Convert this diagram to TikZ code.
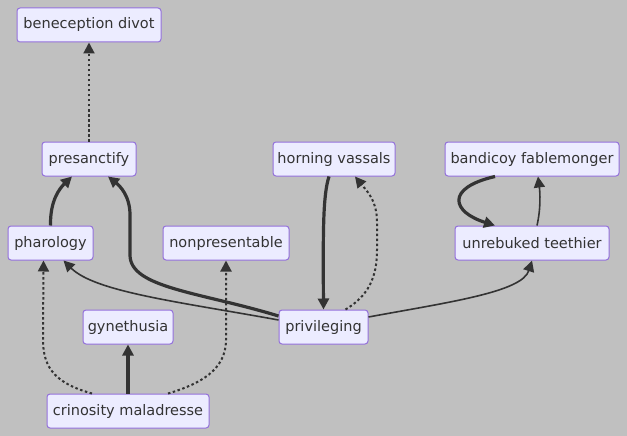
\documentclass[tikz,border=0pt]{standalone}
\usepackage{fontspec}
\setmainfont{DejaVu Sans}
\usetikzlibrary{arrows.meta}
\definecolor{bgc}{HTML}{C0C0C0}
\definecolor{nfill}{HTML}{ECECFF}
\definecolor{nbord}{HTML}{9370DB}
\definecolor{ecol}{HTML}{333333}
\tikzset{
  nd/.style={draw=nbord, fill=nfill, line width=1pt, rounded corners=3pt,
    minimum height=34pt, inner sep=0pt, text=ecol,
    font=\fontsize{14.5}{17}\selectfont},
  tip/.style={-{Triangle[length=11pt 0,width=11pt 0]}},
  thinedge/.style={tip, draw=ecol, line width=1.6pt},
  thickedge/.style={tip, draw=ecol, line width=3.2pt},
  dotedge/.style={tip, draw=ecol, line width=2pt, dash pattern=on 2.5pt off 2.5pt},
}
\begin{document}
\begin{tikzpicture}[x=1pt,y=-1pt]
\fill[bgc] (0,0) rectangle (627,436);
\useasboundingbox (0,0) rectangle (627,436);
\node[nd, minimum width=144pt] (bene) at (89,25) {beneception divot};
\node[nd, minimum width=94pt] (pres) at (89,159) {presanctify};
\node[nd, minimum width=122pt] (horn) at (334,159) {horning vassals};
\node[nd, minimum width=174pt] (band) at (532,159) {bandicoy fablemonger};
\node[nd, minimum width=85pt] (phar) at (50.5,243) {pharology};
\node[nd, minimum width=126pt] (nonp) at (226,243) {nonpresentable};
\node[nd, minimum width=154pt] (unreb) at (532,243) {unrebuked teethier};
\node[nd, minimum width=90pt] (gyn) at (128,327) {gynethusia};
\node[nd, minimum width=89pt] (priv) at (323.5,327) {privileging};
\node[nd, minimum width=162pt] (crin) at (128,411) {crinosity maladresse};

\draw[dotedge] (pres.north) -- (bene.south);
\draw[thickedge] (phar.north) .. controls (50,200) and (60,188) .. ([xshift=-17pt]pres.south);
\draw[thickedge] ([yshift=11pt]priv.west) .. controls (200,292) and (130,288) .. (130,255)
  -- (130,215) .. controls (130,196) and (120,186) .. ([xshift=19pt]pres.south);
\draw[thinedge] ([yshift=7pt]priv.west) .. controls (180,302) and (95,292) .. ([xshift=13pt]phar.south);
\draw[thickedge] ([xshift=-5pt]horn.south) .. controls (323,195) and (323,230) .. (priv.north);
\draw[dotedge] ([xshift=22pt]priv.north) .. controls (368,296) and (377,278) .. (377,250)
  -- (377,222) .. controls (377,200) and (366,190) .. ([xshift=21pt]horn.south);
\draw[thinedge] ([yshift=10pt]priv.east) .. controls (450,302) and (522,292) .. (unreb.south);
\draw[thickedge] ([xshift=-37pt]band.south) .. controls (445,188) and (452,212) .. ([xshift=-37pt]unreb.north);
\draw[thinedge] ([xshift=5pt]unreb.north) .. controls (541,208) and (540,192) .. ([xshift=6pt]band.south);
\draw[thickedge] (crin.north) -- (gyn.south);
\draw[dotedge] ([xshift=-36pt]crin.north) .. controls (58,384) and (43,370) .. (43,340) -- ([xshift=-7pt]phar.south);
\draw[dotedge] ([xshift=40pt]crin.north) .. controls (200,384) and (226,370) .. (226,340) -- (nonp.south);
\end{tikzpicture}
\end{document}
